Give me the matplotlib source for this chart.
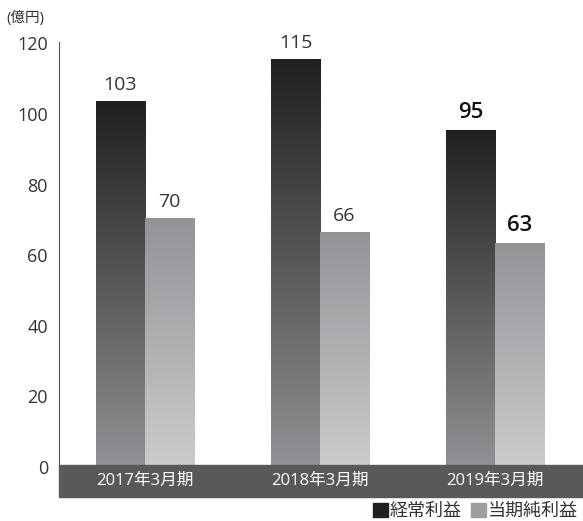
import numpy as np
import matplotlib
matplotlib.use("Agg")
import matplotlib.pyplot as plt
from matplotlib.colors import LinearSegmentedColormap
from matplotlib.patches import Rectangle
from matplotlib.transforms import ScaledTranslation

plt.rcParams['font.family'] = ['Open Sans', 'Noto Sans CJK JP', 'DejaVu Sans']

categories = ["2017年3月期", "2018年3月期", "2019年3月期"]
ordinary_profit = [103, 115, 95]
net_profit = [70, 66, 63]
series_names = ["経常利益", "当期純利益"]
highlight = [False, False, True]

fig = plt.figure(figsize=(5.83, 5.21), dpi=100)
ax = fig.add_axes([59 / 583, 1 - 465 / 521, 1 - 59 / 583, (465 - 41.5) / 521])

x = np.arange(len(categories))
w = 0.28

dark_cmap = LinearSegmentedColormap.from_list("dk", ["#909194", "#202020"])
light_cmap = LinearSegmentedColormap.from_list("lt", ["#cacbcd", "#929396"])
grad = np.linspace(0, 1, 256).reshape(-1, 1)

def gradient_bars(xs, vals, cmap):
    bars = ax.bar(xs, vals, width=w, color="none", edgecolor="none")
    for b in bars:
        x0, y1 = b.get_x(), b.get_height()
        im = ax.imshow(grad, cmap=cmap, origin="lower", aspect="auto",
                       extent=[x0, x0 + b.get_width(), 0, y1], zorder=2)
        im.set_clip_path(b)
    return bars

gradient_bars(x - w / 2, ordinary_profit, dark_cmap)
gradient_bars(x + w / 2, net_profit, light_cmap)
ax.set_xlim(-0.491, 2.503)
ax.set_ylim(0, 120)

for i in range(len(categories)):
    for xs, v in [(x[i] - w / 2, ordinary_profit[i]), (x[i] + w / 2, net_profit[i])]:
        if highlight[i]:
            ax.text(xs, v + 2.0, str(v), ha="center", va="bottom", fontsize=16,
                    fontweight="semibold", color="#111111")
        else:
            ax.text(xs, v + 2.0, str(v), ha="center", va="bottom", fontsize=14,
                    color="#333333")

for s in ["top", "right", "bottom"]:
    ax.spines[s].set_visible(False)
ax.spines["left"].set_color("#555555")
ax.spines["left"].set_linewidth(0.8)
ax.set_yticks(np.arange(0, 121, 20))
ax.tick_params(axis="y", length=0, pad=8, labelsize=13, labelcolor="#333333")
ax.set_xticks([])
shift = ScaledTranslation(0, -2 / 100, fig.dpi_scale_trans)
for lab in ax.get_yticklabels():
    lab.set_transform(lab.get_transform() + shift)

# category band
band = Rectangle((59 / 583, 1 - 497 / 521), 1 - 59 / 583, 32 / 521,
                 transform=fig.transFigure, color="#58595b", zorder=5)
fig.patches.append(band)
for i, c in enumerate(categories):
    xf = ax.transData.transform((x[i], 0))[0] / fig.bbox.width
    fig.text(xf, 1 - 481 / 521, c, ha="center", va="center", color="white",
             fontsize=12, zorder=6)

fig.text(6 / 583, 1 - 18 / 521, "(億円)", ha="left", va="center", fontsize=10.5,
         color="#333333")

handles = [Rectangle((0, 0), 1, 1, color="#231f20"),
           Rectangle((0, 0), 1, 1, color="#9d9ea0")]
fig.legend(handles, series_names, loc="center right", bbox_to_anchor=(1.01, 1 - 511 / 521),
           ncol=2, frameon=False, handlelength=0.85, handleheight=0.85,
           handletextpad=0.1, columnspacing=0.5, fontsize=13,
           labelcolor="#333333", borderpad=0.1)

fig.savefig("out.png", dpi=100)
